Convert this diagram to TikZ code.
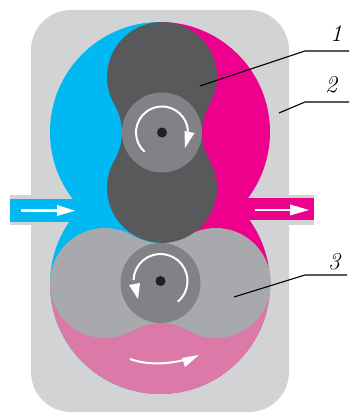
\documentclass[tikz,border=0pt]{standalone}
\definecolor{housing}{HTML}{D1D3D4}
\definecolor{inblue}{HTML}{00B9F2}
\definecolor{outmag}{HTML}{EC008C}
\definecolor{pinkzone}{HTML}{DB7AA8}
\definecolor{darkrotor}{HTML}{58595B}
\definecolor{lightrotor}{HTML}{A7A9AC}
\definecolor{hubgray}{HTML}{808285}
\definecolor{dotblack}{HTML}{231F20}
\newcommand{\rotorshape}{(0,55.5) ++(-30.2:55) arc[start angle=-30.2,end angle=210.2,radius=55] arc[start angle=30.2,end angle=-30.2,radius=55.2] arc[start angle=149.8,end angle=390.2,radius=55] arc[start angle=210.2,end angle=149.8,radius=55.2] -- cycle}
\tikzset{
  leader/.style={draw=black,line width=1.1pt},
  whitearrow/.style={draw=white,line width=2pt},
  headfill/.style={fill=white,draw=none},
  numlabel/.style={font=\itshape\fontsize{24}{24}\selectfont,text=black,inner sep=0pt}
}
\begin{document}
\begin{tikzpicture}[x=1pt,y=1pt]
\useasboundingbox (0,0) rectangle (349,412);
% housing
\fill[housing,rounded corners=40pt] (31,0) rectangle (289,402);
\fill[housing] (10,187) rectangle (314,217);
% blue half
\begin{scope}
\clip (0,0) rectangle (160,412);
\fill[inblue] (160,280) circle[radius=110];
\fill[inblue] (160,128) circle[radius=110];
\fill[inblue] (10,190) rectangle (160,213);
\end{scope}
% magenta half
\begin{scope}
\clip (160,0) rectangle (349,412);
\fill[outmag] (160,280) circle[radius=110];
\fill[outmag] (160,128) circle[radius=110];
\fill[outmag] (160,192) rectangle (314,214);
\end{scope}
% pink lower zone
\begin{scope}
\clip (0,0) rectangle (349,128);
\fill[pinkzone] (160,128) circle[radius=110];
\end{scope}
% lower rotor
\begin{scope}[shift={(160.5,129)},rotate=90]
\fill[lightrotor] \rotorshape;
\end{scope}
\fill[hubgray] (160.5,129) circle[radius=40];
% upper rotor
\begin{scope}[shift={(162,279.5)}]
\fill[darkrotor] \rotorshape;
\end{scope}
\fill[hubgray] (162,279.5) circle[radius=40];
\fill[dotblack] (162,279.5) circle[radius=5];
\fill[dotblack] (160.5,131) circle[radius=5];
% rotation arrows
\draw[whitearrow] (162,279.5) ++(228:26) arc[start angle=228,end angle=2,radius=26];
\fill[headfill] (184.5,281) -- (194.5,279) -- (185,264) -- cycle;
\draw[whitearrow] (160.5,131) ++(-50:27) arc[start angle=-50,end angle=178,radius=27];
\fill[headfill] (129,127) -- (140,129) -- (138,113) -- cycle;
\draw[whitearrow] (130,53) .. controls (145,47.5) and (165,47) .. (186,52.5);
\fill[headfill] (199,57) -- (182,54) -- (185,45) -- cycle;
% flow arrows
\draw[whitearrow,line width=2.6pt] (21,201.3) -- (58,201.3);
\fill[headfill] (57,207) -- (75,201.3) -- (57,196) -- cycle;
\draw[whitearrow,line width=2.6pt] (255,202) -- (292,202);
\fill[headfill] (290,207.5) -- (309,202) -- (290,196.5) -- cycle;
% leaders and labels
\coordinate (p1a) at (200,326);
\coordinate (p1b) at (305,361);
\coordinate (p1c) at (349,361);
\coordinate (p2a) at (279,299);
\coordinate (p2b) at (305,310);
\coordinate (p2c) at (349,310);
\coordinate (p3a) at (234,115);
\coordinate (p3b) at (305,137);
\coordinate (p3c) at (347,137);
\draw[leader] (p1a) -- (p1b) -- (p1c);
\draw[leader] (p2a) -- (p2b) -- (p2c);
\draw[leader] (p3a) -- (p3b) -- (p3c);
\node[numlabel] (n1) at (336,378) {1};
\node[numlabel] (n2) at (331,327) {2};
\node[numlabel] (n3) at (334,150) {3};
\end{tikzpicture}
\end{document}
